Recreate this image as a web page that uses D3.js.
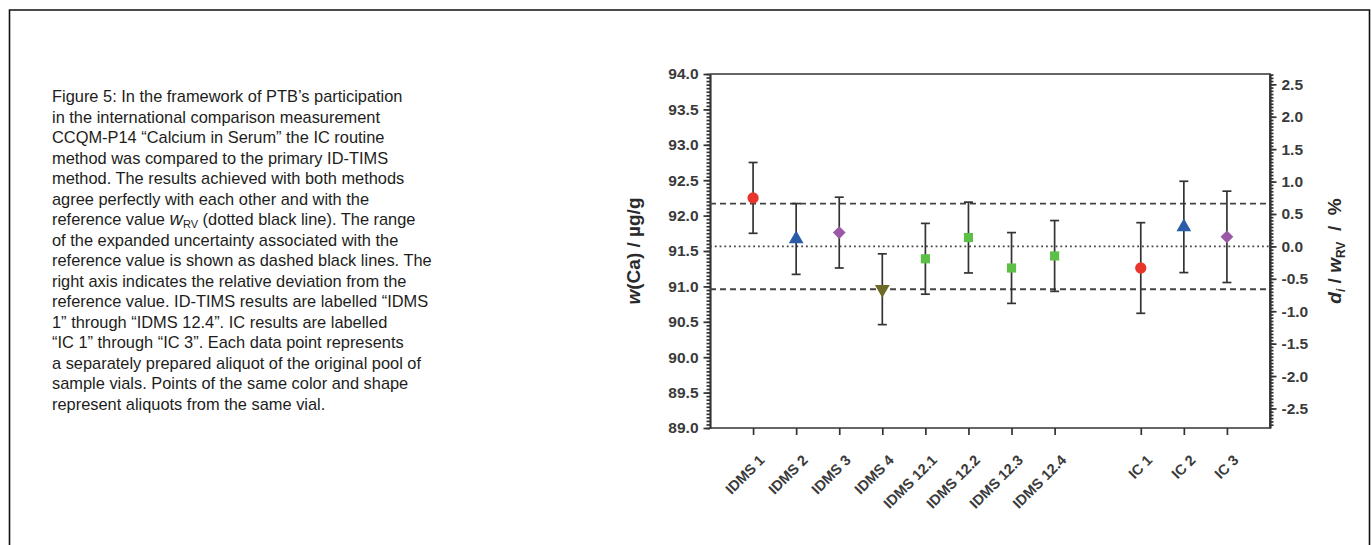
<!DOCTYPE html>
<html>
<head>
<meta charset="utf-8">
<script src="https://cdn.jsdelivr.net/npm/d3@7"></script>
<style>
    html, body { margin: 0; padding: 0; background: #fff; }
    svg { display: block; }
    .caption { font-family: "Liberation Sans", Arial, sans-serif; font-size: 16.4px; fill: #1d1d1b; }
    .axis .tick text { font-family: "Liberation Sans", Arial, sans-serif; font-size: 15.5px; font-weight: bold; fill: #3a3a3a; }
    .x-axis .tick text { font-size: 14.5px; }
    .axis path, .axis line { stroke: #333; stroke-width: 1.7; }
    .axis-title { font-family: "Liberation Sans", Arial, sans-serif; font-size: 19px; font-weight: bold; fill: #2a2a2a; white-space: pre; }
</style>
</head>
<body>
<div id="chart"></div>
<script>
// Sample labels in plotting order
const categories = ['IDMS 1', 'IDMS 2', 'IDMS 3', 'IDMS 4', 'IDMS 12.1', 'IDMS 12.2', 'IDMS 12.3', 'IDMS 12.4', 'IC 1', 'IC 2', 'IC 3'];
// Slot on the x axis (one empty slot between ID-TIMS and IC)
const slots = [0, 1, 2, 3, 4, 5, 6, 7, 9, 10, 11];
// Mass fraction w(Ca) in µg/g
const values = [92.25, 91.67, 91.76, 90.96, 91.39, 91.69, 91.26, 91.43, 91.26, 91.84, 91.70];
// Expanded uncertainty (half length of the error bar)
const uncertainties = [0.50, 0.50, 0.50, 0.50, 0.50, 0.50, 0.50, 0.50, 0.64, 0.645, 0.645];
// Vial each aliquot was taken from
const vials = ['1', '2', '3', '4', '12', '12', '12', '12', '1', '2', '3'];

// Reference value and its expanded uncertainty
const refValue = 91.565;
const refUncertainty = 0.605;

// Tick labels
const leftTicks = [89.0, 89.5, 90.0, 90.5, 91.0, 91.5, 92.0, 92.5, 93.0, 93.5, 94.0];
const rightTicks = [-2.5, -2.0, -1.5, -1.0, -0.5, 0.0, 0.5, 1.0, 1.5, 2.0, 2.5];

// Caption text, one entry per line ({wRV} marks the symbol)
const captionLines = [
    'Figure 5: In the framework of PTB’s participation',
    'in the international comparison measurement',
    'CCQM-P14 “Calcium in Serum” the IC routine',
    'method was compared to the primary ID-TIMS',
    'method. The results achieved with both methods',
    'agree perfectly with each other and with the',
    'reference value {wRV} (dotted black line). The range',
    'of the expanded uncertainty associated with the',
    'reference value is shown as dashed black lines. The',
    'right axis indicates the relative deviation from the',
    'reference value. ID-TIMS results are labelled “IDMS',
    '1” through “IDMS 12.4”. IC results are labelled',
    '“IC 1” through “IC 3”. Each data point represents',
    'a separately prepared aliquot of the original pool of',
    'sample vials. Points of the same color and shape',
    'represent aliquots from the same vial.'
];

// Marker style per vial
const vialStyle = {
    '1': { color: '#e8352b', symbol: d3.symbolCircle, size: 100, rotate: 0 },
    '2': { color: '#2b5ca8', symbol: d3.symbolTriangle, size: 95, rotate: 0 },
    '3': { color: '#9b58a6', symbol: d3.symbolSquare, size: 82, rotate: 45 },
    '4': { color: '#6d6a27', symbol: d3.symbolTriangle, size: 95, rotate: 180 },
    '12': { color: '#5cbf46', symbol: d3.symbolSquare, size: 84, rotate: 0 }
};

const width = 1371;
const height = 545;
const plot = { left: 710, right: 1270, top: 74, bottom: 428 };

const svg = d3.select('#chart')
    .append('svg')
    .attr('width', width)
    .attr('height', height);

// Page frame
svg.append('path')
    .attr('d', `M9.5,${height}V10H1369.5V${height}`)
    .attr('fill', 'none')
    .attr('stroke', '#111')
    .attr('stroke-width', 1.6);

// Caption
const caption = svg.append('text')
    .attr('class', 'caption');

captionLines.forEach((line, i) => {
    const parts = line.split('{wRV}');
    caption.append('tspan')
        .attr('x', 52)
        .attr('y', 102 + i * 20.5)
        .text(parts[0]);
    if (parts.length > 1) {
        caption.append('tspan').attr('font-style', 'italic').attr('font-size', 18.5).text('w');
        caption.append('tspan').attr('font-size', 11).attr('dy', 3).text('RV');
        caption.append('tspan').attr('dy', -3).text(parts[1]);
    }
});

// Scales
const x = d3.scaleLinear()
    .domain([-1, 12])
    .range([plot.left, plot.right]);

const y = d3.scaleLinear()
    .domain([89, 94])
    .range([plot.bottom, plot.top]);

const toPercent = v => (v - refValue) / refValue * 100;

const yRight = d3.scaleLinear()
    .domain([toPercent(89), toPercent(94)])
    .range([plot.bottom, plot.top]);

// Minor ticks every 0.05
const minorAxis = (axis, scale, lo, hi) => axis(scale)
    .tickValues(d3.range(Math.round(lo * 20), Math.round(hi * 20) + 1).map(k => k / 20))
    .tickSize(3.5)
    .tickSizeOuter(0)
    .tickFormat('');

svg.append('g')
    .attr('class', 'axis')
    .attr('transform', `translate(${plot.left},0)`)
    .call(minorAxis(d3.axisLeft, y, 89, 94));

svg.append('g')
    .attr('class', 'axis')
    .attr('transform', `translate(${plot.right},0)`)
    .call(minorAxis(d3.axisRight, yRight, -2.75, 2.65));

const fmt = d => d.toFixed(1);

// Left axis
svg.append('g')
    .attr('class', 'axis')
    .attr('transform', `translate(${plot.left},0)`)
    .call(d3.axisLeft(y).tickValues(leftTicks).tickFormat(fmt).tickSize(6.5).tickPadding(5).tickSizeOuter(0));

// Right axis
svg.append('g')
    .attr('class', 'axis')
    .attr('transform', `translate(${plot.right},0)`)
    .call(d3.axisRight(yRight).tickValues(rightTicks).tickFormat(fmt).tickSize(6.5).tickPadding(5).tickSizeOuter(0));

// Bottom axis
const xAxis = svg.append('g')
    .attr('class', 'axis x-axis')
    .attr('transform', `translate(0,${plot.bottom})`)
    .call(d3.axisBottom(x).tickValues(slots).tickFormat((d, i) => categories[i]).tickSize(7).tickSizeOuter(0));

xAxis.selectAll('.tick text')
    .attr('y', 0)
    .attr('dy', 0)
    .attr('text-anchor', 'end')
    .attr('transform', 'translate(12,33) rotate(-45)');

xAxis.select('.domain')
    .attr('d', `M${plot.left},0H${plot.right}`);

// Top and right border of the plot
svg.append('path')
    .attr('d', `M${plot.left},${plot.top}H${plot.right}V${plot.bottom}`)
    .attr('fill', 'none')
    .attr('stroke', '#333')
    .attr('stroke-width', 1.7);

// Reference value and uncertainty range
const refLines = [
    { v: refValue, dash: '1.8,3' },
    { v: refValue + refUncertainty, dash: '6,4' },
    { v: refValue - refUncertainty, dash: '6,4' }
];

svg.append('g')
    .selectAll('line')
    .data(refLines)
    .join('line')
    .attr('x1', plot.left)
    .attr('x2', plot.right)
    .attr('y1', d => y(d.v))
    .attr('y2', d => y(d.v))
    .attr('stroke', '#444')
    .attr('stroke-width', 1.8)
    .attr('stroke-dasharray', d => d.dash);

// Data
const data = categories.map((name, i) => ({
    name: name,
    slot: slots[i],
    value: values[i],
    u: uncertainties[i],
    vial: vials[i]
}));

// Error bars
const bars = svg.append('g')
    .attr('stroke', '#333')
    .attr('stroke-width', 1.7)
    .selectAll('g')
    .data(data)
    .join('g');

bars.append('line')
    .attr('x1', d => x(d.slot))
    .attr('x2', d => x(d.slot))
    .attr('y1', d => y(d.value - d.u))
    .attr('y2', d => y(d.value + d.u));

bars.selectAll('.cap')
    .data(d => [d.value - d.u, d.value + d.u].map(v => ({ slot: d.slot, v: v })))
    .join('line')
    .attr('class', 'cap')
    .attr('x1', d => x(d.slot) - 4.5)
    .attr('x2', d => x(d.slot) + 4.5)
    .attr('y1', d => y(d.v))
    .attr('y2', d => y(d.v));

// Markers
svg.append('g')
    .selectAll('path')
    .data(data)
    .join('path')
    .attr('d', d => d3.symbol(vialStyle[d.vial].symbol, vialStyle[d.vial].size)())
    .attr('transform', d => `translate(${x(d.slot)},${y(d.value)}) rotate(${vialStyle[d.vial].rotate})`)
    .attr('fill', d => vialStyle[d.vial].color);

// Axis titles
const leftTitle = svg.append('text')
    .attr('class', 'axis-title')
    .attr('text-anchor', 'middle')
    .attr('transform', `translate(640,${(plot.top + plot.bottom) / 2}) rotate(-90)`);

leftTitle.append('tspan').attr('font-style', 'italic').text('w');
leftTitle.append('tspan').text('(Ca) / µg/g');

const rightTitle = svg.append('text')
    .attr('class', 'axis-title')
    .attr('text-anchor', 'middle')
    .attr('transform', `translate(1341,${(plot.top + plot.bottom) / 2}) rotate(-90)`);

rightTitle.append('tspan').attr('font-style', 'italic').text('d');
rightTitle.append('tspan').attr('font-style', 'italic').attr('font-size', 12).attr('dy', 4).text('i');
rightTitle.append('tspan').attr('dy', -4).text(' / ');
rightTitle.append('tspan').attr('font-style', 'italic').text('w');
rightTitle.append('tspan').attr('font-size', 12).attr('dy', 4).text('RV');
rightTitle.append('tspan').attr('dy', -4).text('  /  %');
</script>
</body>
</html>
